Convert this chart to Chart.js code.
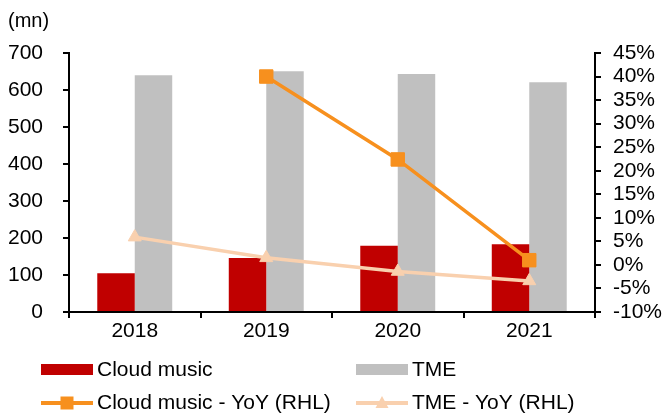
<!DOCTYPE html>
<html lang="en">
<head>
<meta charset="UTF-8" />
<title>Cloud music vs TME</title>
<script src="https://cdn.jsdelivr.net/npm/chart.js"></script>
<style>
  html, body { margin: 0; padding: 0; background: #fff; }
  #wrap { width: 662px; height: 417px; }
</style>
</head>
<body>
<div id="wrap"><canvas id="chart" width="662" height="417"></canvas></div>
<script>
  const years = ['2018', '2019', '2020', '2021'];
  const cloudMusic = [105, 146, 179, 183];
  const tme = [640, 651, 643, 621];
  const cloudYoY = [null, 40.0, 22.4, 1.0];
  const tmeYoY = [5.9, 1.5, -1.4, -3.4];
  const unitLabel = '(mn)';

  const FONT = "'Liberation Sans', Arial, sans-serif";
  Chart.defaults.font.family = FONT;
  Chart.defaults.font.size = 21;
  Chart.defaults.color = '#000';

  // legend in two fixed columns, like the original
  const legendPlugin = {
    id: 'fixedLegend',
    afterDraw(chart) {
      const ctx = chart.ctx;
      const ds = chart.data.datasets;
      const cols = [41, 356];
      const rows = [370, 403];
      ctx.save();
      ctx.font = '21px ' + FONT;
      ctx.textBaseline = 'middle';
      ds.forEach((d, i) => {
        const x = cols[i % 2], y = rows[Math.floor(i / 2)];
        if (d.type === 'line') {
          ctx.strokeStyle = d.borderColor;
          ctx.lineWidth = 4;
          ctx.beginPath();
          ctx.moveTo(x, y);
          ctx.lineTo(x + 52, y);
          ctx.stroke();
          ctx.fillStyle = d.pointBackgroundColor;
          ctx.beginPath();
          if (d.pointStyle === 'rect') {
            ctx.rect(x + 26 - 6.5, y - 6.5, 13, 13);
          } else {
            ctx.moveTo(x + 26, y - 7);
            ctx.lineTo(x + 26 + 6.5, y + 5);
            ctx.lineTo(x + 26 - 6.5, y + 5);
            ctx.closePath();
          }
          ctx.fill();
        } else {
          ctx.fillStyle = d.backgroundColor;
          ctx.fillRect(x, y - 6, 52, 11);
        }
        ctx.fillStyle = '#000';
        ctx.fillText(d.label, x + 56, y);
      });
      ctx.font = '20px ' + FONT;
      ctx.fillText(unitLabel, 8, 21);
      ctx.restore();
    }
  };

  const axisGrid = { drawOnChartArea: false, color: '#000', lineWidth: 2, tickLength: 6 };
  const axisBorder = { color: '#000', width: 2 };

  new Chart(document.getElementById('chart'), {
    data: {
      labels: years,
      datasets: [
        {
          type: 'bar', label: 'Cloud music', data: cloudMusic,
          backgroundColor: '#C00000', yAxisID: 'y', order: 1,
          categoryPercentage: 0.57, barPercentage: 1.0
        },
        {
          type: 'bar', label: 'TME', data: tme,
          backgroundColor: '#C0C0C0', yAxisID: 'y', order: 1,
          categoryPercentage: 0.57, barPercentage: 1.0
        },
        {
          type: 'line', label: 'Cloud music - YoY (RHL)', data: cloudYoY,
          borderColor: '#F7901E', backgroundColor: '#F7901E',
          pointBackgroundColor: '#F7901E', pointBorderColor: '#F7901E',
          borderWidth: 3.5, pointStyle: 'rect', pointRadius: 9.5, pointBorderWidth: 1,
          tension: 0, yAxisID: 'y1', order: 0
        },
        {
          type: 'line', label: 'TME - YoY (RHL)', data: tmeYoY,
          borderColor: '#F9D0AE', backgroundColor: '#F9D0AE',
          pointBackgroundColor: '#F9D0AE', pointBorderColor: '#F9D0AE',
          borderWidth: 3.5, pointStyle: 'triangle', pointRadius: 7.5, pointBorderWidth: 1,
          tension: 0, yAxisID: 'y1', order: 0
        }
      ]
    },
    options: {
      responsive: false,
      animation: false,
      layout: { padding: { top: 53, left: 0, right: 0, bottom: 0 } },
      plugins: { legend: { display: false }, tooltip: { enabled: false } },
      scales: {
        x: {
          offset: true,
          grid: Object.assign({ offset: true }, axisGrid),
          border: axisBorder,
          ticks: { padding: 1, color: '#000' },
          afterFit: s => { s.height = 105; }
        },
        y: {
          position: 'left', min: 0, max: 700,
          grid: axisGrid, border: axisBorder,
          ticks: { stepSize: 100, padding: 20, color: '#000', autoSkip: false },
          afterFit: s => { s.width = 69; }
        },
        y1: {
          position: 'right', min: -10, max: 45,
          grid: axisGrid, border: axisBorder,
          ticks: { stepSize: 5, padding: 12, color: '#000', autoSkip: false, callback: v => v + '%' },
          afterFit: s => { s.width = 67; }
        }
      }
    },
    plugins: [legendPlugin]
  });
</script>
</body>
</html>
